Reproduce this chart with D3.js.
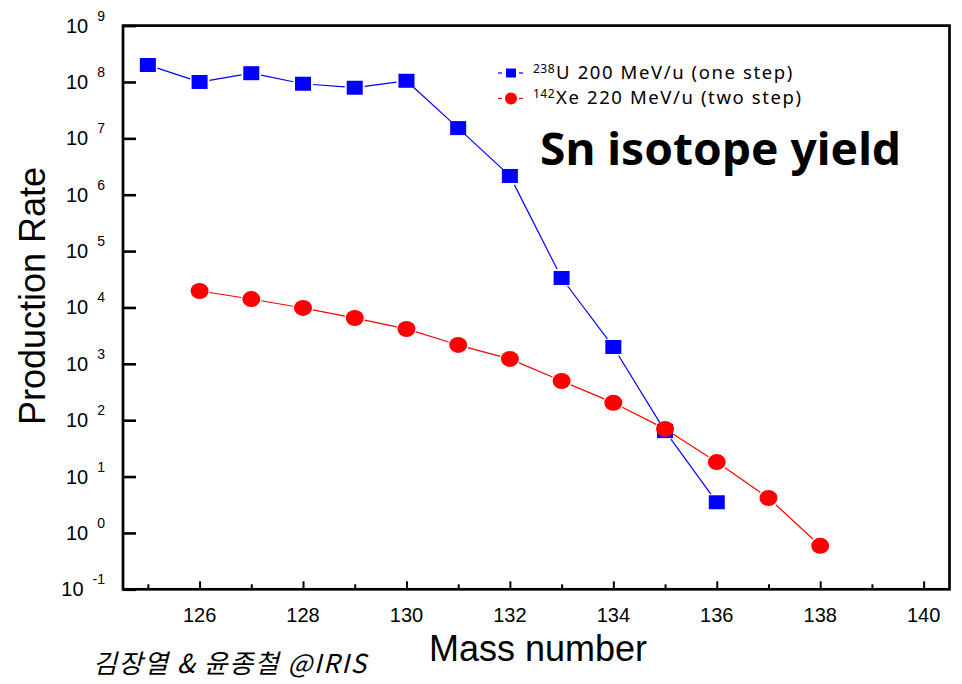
<!DOCTYPE html>
<html>
<head>
<meta charset="utf-8">
<script src="https://cdn.jsdelivr.net/npm/d3@7"></script>
<style>
  body { margin: 0; background: #fff; }
  svg { display: block; }
</style>
</head>
<body>
<div id="chart"></div>
<script>
// Sn isotope yield
var massU = [125, 126, 127, 128, 129, 130, 131, 132, 133, 134, 135, 136];
var rateU = [2.0e8, 1.0e8, 1.43e8, 9.3e7, 7.9e7, 1.05e8, 1.52e7, 2.15e6, 3.33e4, 1.99e3, 64, 3.5];

var massXe = [126, 127, 128, 129, 130, 131, 132, 133, 134, 135, 136, 137, 138];
var rateXe = [1.96e4, 1.41e4, 9.8e3, 6.5e3, 4.15e3, 2.16e3, 1.22e3, 496, 204, 70, 18.1, 4.17, 0.59];

var xMajor = [126, 128, 130, 132, 134, 136, 138, 140];
var xMinor = [125, 127, 129, 131, 133, 135, 137, 139];
var yExps = [-1, 0, 1, 2, 3, 4, 5, 6, 7, 8, 9];

var W = 962, H = 684;
var pLeft = 123, pRight = 949.5, pTop = 25.6, pBottom = 589.3;

var svg = d3.select("#chart").append("svg")
    .attr("width", W).attr("height", H);

var x = d3.scaleLinear().domain([124.5, 140.5]).range([122, 949.5]);
var y = d3.scaleLog().domain([1e-1, 1e9]).range([pBottom, pTop]);

// x ticks (inward, major + minor)
svg.append("g")
    .attr("transform", "translate(0," + pBottom + ")")
    .call(d3.axisTop(x).tickValues(xMajor).tickSize(8).tickFormat(""))
    .call(g => g.select(".domain").remove())
    .call(g => g.selectAll("line").attr("stroke", "#000").attr("stroke-width", 2));
svg.append("g")
    .attr("transform", "translate(0," + pBottom + ")")
    .call(d3.axisTop(x).tickValues(xMinor).tickSize(5).tickFormat(""))
    .call(g => g.select(".domain").remove())
    .call(g => g.selectAll("line").attr("stroke", "#000").attr("stroke-width", 2));

svg.selectAll("text.xlab")
    .data(xMajor).enter()
    .append("text")
    .attr("class", "xlab")
    .attr("x", d => x(d))
    .attr("y", 622)
    .attr("text-anchor", "middle")
    .style("font-family", "'Liberation Sans', Arial, sans-serif")
    .style("font-size", "20px")
    .text(d => d);

// y ticks
svg.append("g")
    .attr("transform", "translate(" + pLeft + ",0)")
    .call(d3.axisRight(y).tickValues(yExps.map(e => Math.pow(10, e))).tickSize(13).tickFormat(""))
    .call(g => g.select(".domain").remove())
    .call(g => g.selectAll("line").attr("stroke", "#000").attr("stroke-width", 2.6));

var ylab = svg.selectAll("text.ylab")
    .data(yExps).enter()
    .append("text")
    .attr("class", "ylab")
    .attr("x", 105)
    .attr("y", d => y(Math.pow(10, d)) + 7)
    .attr("text-anchor", "end")
    .style("font-family", "'Liberation Sans', Arial, sans-serif")
    .style("font-size", "20px");
ylab.append("tspan").text("10");
ylab.append("tspan")
    .attr("dx", 9).attr("dy", -12)
    .style("font-size", "14px")
    .text(d => d);

// frame
svg.append("rect")
    .attr("x", pLeft).attr("y", pTop)
    .attr("width", pRight - pLeft).attr("height", pBottom - pTop)
    .attr("fill", "none").attr("stroke", "#000").attr("stroke-width", 2.7);

// lines with a small gap at each symbol
function drawSeries(mass, rate, color, gap) {
    var pts = mass.map((m, i) => [x(m), y(rate[i])]);
    var segs = d3.pairs(pts).map(d => {
        var dx = d[1][0] - d[0][0], dy = d[1][1] - d[0][1], L = Math.hypot(dx, dy);
        return [d[0][0] + dx / L * gap, d[0][1] + dy / L * gap, d[1][0] - dx / L * gap, d[1][1] - dy / L * gap];
    });
    svg.append("g").selectAll("line")
        .data(segs).enter()
        .append("line")
        .attr("x1", d => d[0]).attr("y1", d => d[1])
        .attr("x2", d => d[2]).attr("y2", d => d[3])
        .attr("stroke", color)
        .attr("stroke-width", 1.2);
}

drawSeries(massXe, rateXe, "#ff0000", 10);
drawSeries(massU, rateU, "#0000ff", 10);

svg.append("g").selectAll("rect")
    .data(massU).enter()
    .append("rect")
    .attr("x", d => x(d) - 8)
    .attr("y", (d, i) => y(rateU[i]) - 7)
    .attr("width", 16).attr("height", 14)
    .attr("fill", "#0000ff");

svg.append("g").selectAll("ellipse")
    .data(massXe).enter()
    .append("ellipse")
    .attr("cx", d => x(d))
    .attr("cy", (d, i) => y(rateXe[i]))
    .attr("rx", 9).attr("ry", 8)
    .attr("fill", "#ff0000");

// legend
var legFont = "'Noto Sans', 'Open Sans', sans-serif";
function legendRow(cy, color, shape, sup, label) {
    svg.append("line").attr("x1", 498).attr("x2", 502).attr("y1", cy).attr("y2", cy).attr("stroke", color).attr("stroke-width", 1.2);
    svg.append("line").attr("x1", 519).attr("x2", 523).attr("y1", cy).attr("y2", cy).attr("stroke", color).attr("stroke-width", 1.2);
    if (shape === "square") {
        svg.append("rect").attr("x", 506).attr("y", cy - 4.5).attr("width", 10).attr("height", 9).attr("fill", color);
    } else {
        svg.append("circle").attr("cx", 511).attr("cy", cy).attr("r", 6).attr("fill", color);
    }
    var t = svg.append("text")
        .attr("x", 533).attr("y", cy + 5.5)
        .style("font-family", legFont)
        .style("font-size", "18.5px")
        .style("letter-spacing", "1.6px");
    t.append("tspan").attr("dy", -6).style("font-size", "12px").style("letter-spacing", "0.5px").text(sup);
    t.append("tspan").attr("dy", 6).attr("dx", 1).text(label);
}
legendRow(73, "#0000ff", "square", "238", "U 200 MeV/u (one step)");
legendRow(98.5, "#ff0000", "circle", "142", "Xe 220 MeV/u (two step)");

// titles
svg.append("text")
    .attr("x", 540).attr("y", 165)
    .style("font-family", legFont)
    .style("font-weight", "bold")
    .style("font-size", "44px")
    .attr("textLength", 361)
    .attr("lengthAdjust", "spacingAndGlyphs")
    .text("Sn isotope yield");

svg.append("text")
    .attr("transform", "translate(45,296) rotate(-90)")
    .attr("text-anchor", "middle")
    .style("font-family", "'Liberation Sans', Arial, sans-serif")
    .style("font-size", "36px")
    .text("Production Rate");

svg.append("text")
    .attr("x", 538).attr("y", 661)
    .attr("text-anchor", "middle")
    .style("font-family", "'Liberation Sans', Arial, sans-serif")
    .style("font-size", "36px")
    .text("Mass number");

svg.append("text")
    .attr("x", 93).attr("y", 673)
    .style("font-family", "'Noto Sans CJK KR', sans-serif")
    .style("font-style", "italic")
    .style("font-size", "26px")
    .style("letter-spacing", "1.6px")
    .text("김장열 & 윤종철 @IRIS");
</script>
</body>
</html>
